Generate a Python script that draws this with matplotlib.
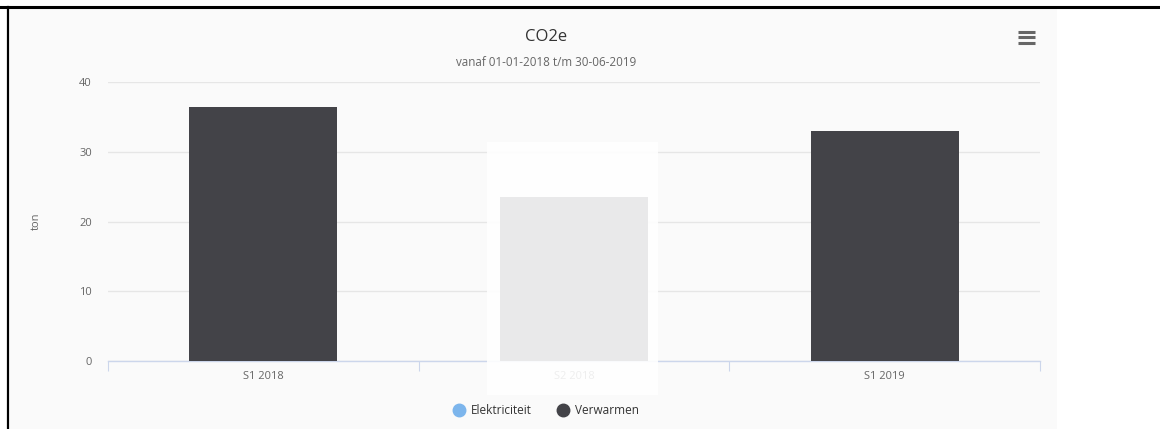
import numpy as np
import matplotlib
matplotlib.use("Agg")
from matplotlib import pyplot as plt
from matplotlib.patches import Rectangle
from matplotlib.lines import Line2D

categories = ["S1 2018", "S2 2018", "S1 2019"]
elektriciteit = [0.0, 0.0, 0.0]
verwarmen = [36.4, 23.5, 33.0]
yticks = [0, 10, 20, 30, 40]

W, H = 1160, 429
plt.rcParams['font.family'] = ['Open Sans', 'DejaVu Sans']

fig = plt.figure(figsize=(W / 100, H / 100), dpi=100)
fig.patch.set_facecolor('white')

def fx(px):
    return px / W

def fy(py):
    return 1 - py / H

# chart background and page border
fig.add_artist(Rectangle((fx(10), 0), fx(1057) - fx(10), fy(8), transform=fig.transFigure,
                         facecolor='#fafafa', edgecolor='none', zorder=-10))
fig.add_artist(Line2D([0, 1], [fy(7), fy(7)], transform=fig.transFigure, color='black', lw=2.2, zorder=10))
fig.add_artist(Line2D([fx(8), fx(8)], [0, fy(7)], transform=fig.transFigure, color='black', lw=1.6, zorder=10))

ax = fig.add_axes([fx(108), fy(361), fx(1040) - fx(108), fy(82) - fy(361)])
ax.set_facecolor('none')

x = np.arange(len(categories))
ax.bar(x, elektriciteit, width=0.476, color='#7cb5ec', zorder=3)
ax.bar(x, verwarmen, width=0.476, bottom=elektriciteit, color='#434348', zorder=3)

ax.set_xlim(-0.5, 2.5)
ax.set_ylim(0, 40)
ax.set_yticks(yticks)
ax.set_yticklabels([str(v) for v in yticks], color='#666666', fontsize=8)
ax.tick_params(axis='y', length=0, pad=11.5)
ax.yaxis.grid(True, color='#e6e6e6', lw=1)
ax.set_axisbelow(True)

ax.set_xticks([-0.5, 0.5, 1.5, 2.5])
ax.set_xticklabels([])
ax.tick_params(axis='x', which='major', length=7.2, width=0.8, color='#ccd6eb')
ax.set_xticks(x, minor=True)
ax.set_xticklabels(categories, minor=True, color='#666666', fontsize=8)
ax.tick_params(axis='x', which='minor', length=0, pad=7)

for s in ['top', 'right', 'left']:
    ax.spines[s].set_visible(False)
ax.spines['bottom'].set_color('#ccd6eb')
ax.spines['bottom'].set_linewidth(1)

ax.set_ylabel('ton', color='#666666', fontsize=8, labelpad=27)

# title / subtitle
fig.text(fx(546), fy(37), 'CO2e', ha='center', va='center', fontsize=12, color='#333333')
fig.text(fx(546), fy(62), 'vanaf 01-01-2018 t/m 30-06-2019', ha='center', va='center',
         fontsize=8.4, color='#666666')

# menu icon
for yy in [32, 37, 42.5]:
    fig.add_artist(Line2D([fx(1018), fx(1035)], [fy(yy), fy(yy)], transform=fig.transFigure,
                          color='#666666', lw=2.2, solid_capstyle='butt'))

# hover overlay
fig.add_artist(Rectangle((fx(487), fy(395)), fx(658) - fx(487), fy(142) - fy(395),
                         transform=fig.transFigure, facecolor='white', edgecolor='none',
                         alpha=0.89, zorder=5))

# legend
handles = [Line2D([], [], marker='o', ls='none', markersize=9, color='#7cb5ec'),
           Line2D([], [], marker='o', ls='none', markersize=9, color='#434348')]
fig.legend(handles, ['Elektriciteit', 'Verwarmen'], loc='center', ncol=2,
           bbox_to_anchor=(fx(546), fy(411)), frameon=False, fontsize=8.5,
           labelcolor='#333333', handletextpad=0.5, columnspacing=2.2, handlelength=1.0)

plt.savefig('out.png', dpi=100)
